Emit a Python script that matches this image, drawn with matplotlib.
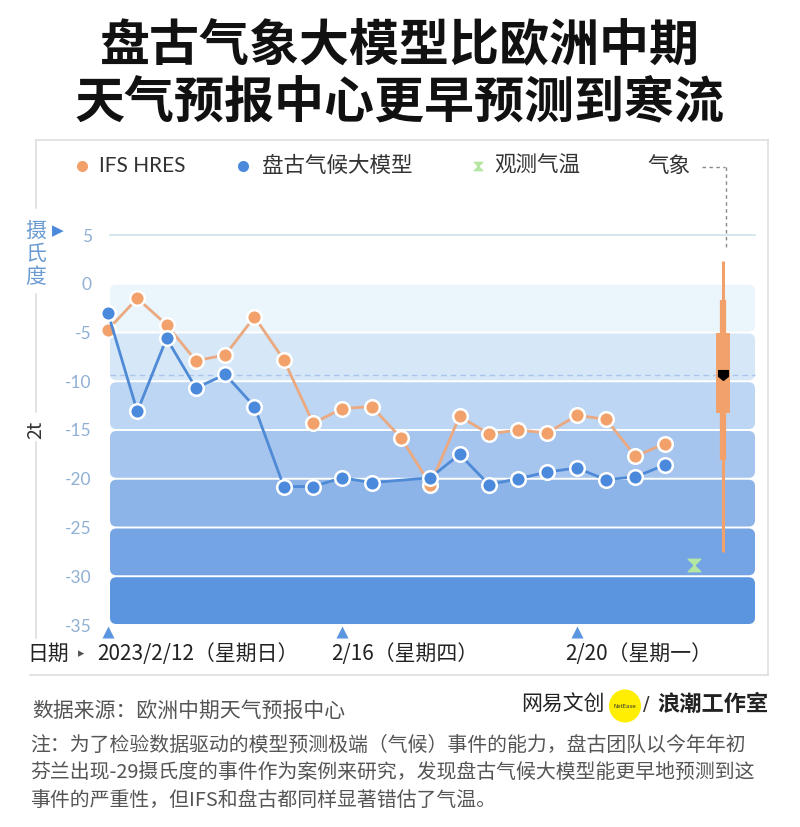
import numpy as np
import pandas as pd
import matplotlib
matplotlib.use("Agg")
import matplotlib.pyplot as plt
import matplotlib.dates as mdates
from matplotlib.patches import FancyBboxPatch, Circle
from matplotlib.lines import Line2D
from matplotlib.path import Path
from matplotlib.transforms import ScaledTranslation

plt.rcParams['font.family'] = ['Noto Sans CJK SC', 'DejaVu Sans']

# ---------------- data ----------------
times = pd.date_range('2023-02-12', periods=20, freq='12h')
ifs_hres = [-4.7, -1.5, -4.2, -7.9, -7.3, -3.4, -7.8, -14.3, -12.8, -12.6,
            -15.8, -20.6, -13.6, -15.4, -15.0, -15.3, -13.5, -13.9, -17.7, -16.4]
pangu = [-3.0, -13.1, -5.6, -10.7, -9.3, -12.6, -20.8, -20.8, -19.9, -20.4,
         np.nan, -19.9, -17.5, -20.6, -20.0, -19.3, -18.9, -20.1, -19.8, -18.6]
obs_time = pd.Timestamp('2023-02-22')
obs_temp = -28.8
ens_time = pd.Timestamp('2023-02-22 12:00')
ens_whisker = (2.3, -27.5)
ens_inner = (-1.7, -18.1)
ens_box = (-5.1, -13.3)
ens_median = -9.4
band_edges = [0, -5, -10, -15, -20, -25, -30, -35]
band_colors = ['#ebf5fc', '#d6e7f8', '#bdd6f3', '#a5c5ee', '#8cb4e8', '#74a4e4', '#5b95e0']
yticks = [5, 0, -5, -10, -15, -20, -25, -30, -35]
xtick_dates = [pd.Timestamp('2023-02-12'), pd.Timestamp('2023-02-16'), pd.Timestamp('2023-02-20')]
xtick_labels = ['2023/2/12（星期日）', '2/16（星期四）', '2/20（星期一）']

ORANGE = '#f2a16b'
ORANGE_L = '#eaa980'
BLUE = '#4a89dc'
BLUE_L = '#4f8ad6'
GREEN = '#b5e6a4'

W, H = 800, 827
fig = plt.figure(figsize=(W / 100, H / 100), dpi=100)
fig.patch.set_facecolor('white')

def fx(x):
    return x / W

def fy(y):
    return 1 - y / H

t0 = mdates.date2num(pd.Timestamp('2023-02-12'))
pxday = 58.6
pxval = 9.75
ax = fig.add_axes([fx(100), fy(635), (760 - 100) / W, (635 - 225) / H])
ax.set_xlim(t0 + (100 - 108) / pxday, t0 + (760 - 108) / pxday)
ax.set_ylim(5 - (635 - 235) / pxval, 5 + (235 - 225) / pxval)
for s in ax.spines.values():
    s.set_visible(False)
ax.set_facecolor('none')
ax.set_xticks([])
ax.set_yticks(yticks)
ax.set_yticklabels([str(v) for v in yticks])
ax.tick_params(axis='y', length=0, pad=6, labelsize=12.5, labelcolor='#8fb0d3')
for lab in ax.get_yticklabels():
    lab.set_fontfamily(['Lato', 'DejaVu Sans'])

# bands
xa = t0 + (110 - 108) / pxday
xb = t0 + (755 - 108) / pxday
asp = pxday / pxval
for i in range(len(band_colors)):
    top, bot = band_edges[i], band_edges[i + 1]
    p = FancyBboxPatch((xa, bot + 0.1), xb - xa, (top - bot) - 0.2,
                       boxstyle='round,pad=0,rounding_size=0.11',
                       mutation_aspect=asp, facecolor=band_colors[i],
                       edgecolor='none', zorder=1)
    ax.add_patch(p)

ax.plot([xa, xb], [5, 5], color='#cde3ea', lw=1.2, zorder=1.5)
ax.plot([xa, xb], [ens_median, ens_median], color='#a9c5ea', lw=1, ls=(0, (4, 3)), zorder=1.5)

# series
tn = mdates.date2num(times)
ifs = np.array(ifs_hres)
pg = np.array(pangu)
ax.plot(tn, ifs, color=ORANGE_L, lw=2, zorder=3)
ax.plot(tn, ifs, ls='none', marker='o', ms=10.5, mfc=ORANGE, mec='white', mew=1.8, zorder=4)
m = ~np.isnan(pg)
ax.plot(tn[m], pg[m], color=BLUE_L, lw=2, zorder=5)
ax.plot(tn[m], pg[m], ls='none', marker='o', ms=10.5, mfc=BLUE, mec='white', mew=1.8, zorder=6)

# ensemble box
ex = mdates.date2num(ens_time)
ax.plot([ex, ex], ens_whisker, color=ORANGE, lw=2.2, solid_capstyle='butt', zorder=4)
ax.plot([ex, ex], ens_inner, color=ORANGE, lw=4.5, solid_capstyle='butt', zorder=4)
ax.plot([ex, ex], ens_box, color=ORANGE, lw=10, solid_capstyle='butt', zorder=4)
shield = Path([(-1, 1), (1, 1), (1, -0.2), (0, -1), (-1, -0.2), (-1, 1)],
              [Path.MOVETO, Path.LINETO, Path.LINETO, Path.LINETO, Path.LINETO, Path.CLOSEPOLY])
ax.plot([ex], [ens_median], ls='none', marker=shield, ms=7, mfc='black', mec='black', zorder=6)

# observed
hourglass = Path([(-1, 1), (1, 1), (0, 0), (-1, 1), (-1, -1), (1, -1), (0, 0), (-1, -1)],
                 [Path.MOVETO, Path.LINETO, Path.LINETO, Path.CLOSEPOLY,
                  Path.MOVETO, Path.LINETO, Path.LINETO, Path.CLOSEPOLY])
ox = mdates.date2num(obs_time)
ax.plot([ox], [obs_temp], ls='none', marker=hourglass, ms=9, mfc=GREEN, mec=GREEN, zorder=6)

# x ticks (triangles) and labels
xd = mdates.date2num(xtick_dates)
ax.plot(xd, [-35.75] * len(xd), ls='none', marker='^', ms=8.5, mfc='#5b95e0', mec='none',
        clip_on=False, zorder=6)
off = ScaledTranslation(-8 / 72, 0, fig.dpi_scale_trans)
for d, lab in zip(xd, xtick_labels):
    ax.text(d, -38.0, lab, ha='left', va='center', fontsize=15, color='#222222',
            transform=ax.transData + off, clip_on=False)
fig.text(fx(27), fy(654), '日期', ha='left', va='center', fontsize=15, color='#222222')
fig.text(fx(81), fy(654), '▸', ha='center', va='center', fontsize=9, color='#555555',
         family=['DejaVu Sans'])

# y labels
for i, ch in enumerate('摄氏度'):
    fig.text(fx(36), fy(231 + i * 23), ch, ha='center', va='center', fontsize=15, color='#6a9bd2')
fig.text(fx(58), fy(231), '▶', ha='center', va='center', fontsize=11, color=BLUE,
         family=['DejaVu Sans'])
fig.text(fx(36), fy(430), '2t', ha='center', va='center', fontsize=14, color='#333333', rotation=90)

# frame
fc = '#dedede'
def fline(x0, y0, x1, y1, **kw):
    fig.add_artist(Line2D([fx(x0), fx(x1)], [fy(y0), fy(y1)], color=kw.get('color', fc),
                          lw=kw.get('lw', 1.2), ls=kw.get('ls', '-')))
fline(36, 140, 768, 140)
fline(768, 140, 768, 675)
fline(30, 675, 768, 675)
fline(36, 140, 36, 208)
fline(36, 294, 36, 412)
fline(36, 442, 36, 638)

# legend
ly = 166
fig.add_artist(Line2D([fx(82)], [fy(ly)], marker='o', ms=9, mfc=ORANGE, mec='white', ls='none'))
fig.text(fx(99), fy(ly), 'IFS HRES', ha='left', va='center', fontsize=15, color='#333333',
         family=['Lato', 'DejaVu Sans'])
fig.add_artist(Line2D([fx(243)], [fy(ly)], marker='o', ms=9, mfc=BLUE, mec='white', ls='none'))
fig.text(fx(262), fy(ly), '盘古气候大模型', ha='left', va='center', fontsize=15.5, color='#333333')
fig.add_artist(Line2D([fx(478)], [fy(ly)], marker=hourglass, ms=6, mfc=GREEN, mec=GREEN, ls='none'))
fig.text(fx(494), fy(ly), '观测气温', ha='left', va='center', fontsize=15.5, color='#333333')
fig.text(fx(647), fy(ly), '气象', ha='left', va='center', fontsize=15.5, color='#333333')
fline(702, 167, 725, 167, color='#888888', lw=1, ls=(0, (2.5, 2.5)))
fline(726, 167, 726, 247, color='#888888', lw=1, ls=(0, (2.5, 2.5)))

# title
fig.text(0.5, fy(47), '盘古气象大模型比欧洲中期', ha='center', va='center', fontsize=36,
         fontweight=900, color='#111111')
fig.text(0.5, fy(103), '天气预报中心更早预测到寒流', ha='center', va='center', fontsize=36,
         fontweight=900, color='#111111')

# footer
fig.text(fx(32), fy(711), '数据来源：欧洲中期天气预报中心', ha='left', va='center', fontsize=15,
         color='#555555')
notes = ['注：为了检验数据驱动的模型预测极端（气候）事件的能力，盘古团队以今年年初',
         '芬兰出现-29摄氏度的事件作为案例来研究，发现盘古气候大模型能更早地预测到这',
         '事件的严重性，但IFS和盘古都同样显著错估了气温。']
for i, line in enumerate(notes):
    fig.text(fx(30), fy(745 + i * 27.5), line, ha='left', va='center', fontsize=14.3, color='#555555')

# logo
fig.text(fx(521), fy(704), '网易文创', ha='left', va='center', fontsize=15, color='#222222')
fig.add_artist(Circle((fx(625), fy(706)), 16 / W, facecolor='#ffee00', edgecolor='none',
                      transform=fig.transFigure))
fig.text(fx(625), fy(706), 'NetEase', ha='center', va='center', fontsize=4, color='#333333',
         family=['DejaVu Sans'])
fig.text(fx(646), fy(704), '/', ha='center', va='center', fontsize=14, color='#333333',
         family=['DejaVu Sans'])
fig.text(fx(657), fy(704), '浪潮工作室', ha='left', va='center', fontsize=16, fontweight='bold',
         color='#222222')

fig.savefig('out.png', dpi=100, facecolor='white')
